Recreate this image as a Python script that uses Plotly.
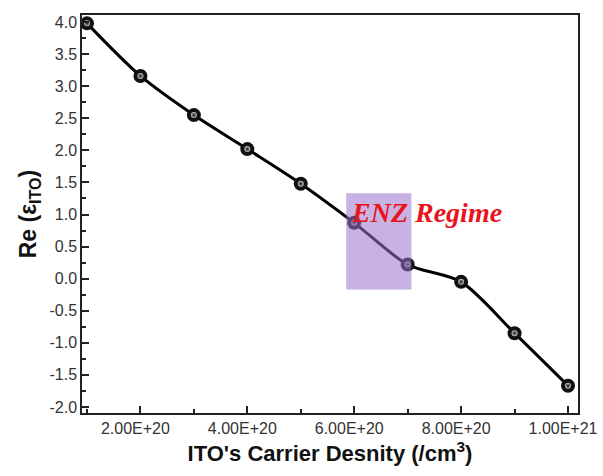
import plotly.graph_objects as go

carrier_density = [1e20, 2e20, 3e20, 4e20, 5e20, 6e20, 7e20, 8e20, 9e20, 1e21]
re_eps = [3.98, 3.16, 2.55, 2.02, 1.48, 0.87, 0.22, -0.05, -0.85, -1.67]

x_tickvals = [2e20, 4e20, 6e20, 8e20, 1e21]
x_ticktext = ["2.00E+20", "4.00E+20", "6.00E+20", "8.00E+20", "1.00E+21"]
y_tickvals = [-2.0, -1.5, -1.0, -0.5, 0.0, 0.5, 1.0, 1.5, 2.0, 2.5, 3.0, 3.5, 4.0]
y_ticktext = ["-2.0", "-1.5", "-1.0", "-0.5", "0.0", "0.5", "1.0", "1.5", "2.0", "2.5", "3.0", "3.5", "4.0"]

enz_x = [5.85e20, 7.07e20]
enz_y = [-0.17, 1.33]

fig = go.Figure()
fig.add_trace(go.Scatter(
    x=carrier_density, y=re_eps, mode="lines+markers",
    line=dict(color="black", width=3, shape="spline", smoothing=0.8),
    marker=dict(size=14, color="#111111", line=dict(width=0)),
    showlegend=False,
))
fig.add_trace(go.Scatter(
    x=carrier_density, y=re_eps, mode="markers",
    marker=dict(size=6, color="#c8c8c8", gradient=dict(type="radial", color="#111111"),
                line=dict(width=0)),
    showlegend=False, hoverinfo="skip",
))

fig.add_shape(type="rect", x0=enz_x[0], x1=enz_x[1], y0=enz_y[0], y1=enz_y[1],
              fillcolor="rgba(155,115,205,0.55)", line=dict(width=0), layer="above")
fig.add_annotation(x=enz_x[0], y=1.03, xanchor="left", yanchor="middle", showarrow=False,
                   text="<b><i>ENZ Regime</i></b>",
                   font=dict(family="Liberation Serif", size=28, color="#e8141c"), xshift=3)

axis_common = dict(showline=True, linecolor="#222", linewidth=1.5, mirror=True,
                   ticks="inside", tickcolor="#222", tickwidth=1.5, ticklen=7,
                   showgrid=False, zeroline=False, ticklabeloverflow="allow",
                   automargin=False,
                   tickfont=dict(family="Liberation Sans", size=16, color="#333"))
fig.update_xaxes(range=[0.907e20, 1.0187e21], tickvals=x_tickvals, ticktext=x_ticktext,
                 ticklabelshift=-5,
                 minor=dict(dtick=1e20, tick0=0, ticks="inside", ticklen=4, tickcolor="#222", tickwidth=1.5),
                 title=dict(text="<b>ITO's Carrier Desnity (/cm<sup>3</sup>)</b>",
                            font=dict(family="Liberation Sans", size=22, color="#111"), standoff=10),
                 **axis_common)
fig.update_yaxes(range=[-2.094, 4.11], tickvals=y_tickvals, ticktext=y_ticktext,
                 minor=dict(dtick=0.25, tick0=0, ticks="inside", ticklen=4, tickcolor="#222", tickwidth=1.5),
                 title=dict(text="<b>Re (ε<sub>ITO</sub>)</b>",
                            font=dict(family="Liberation Sans", size=23, color="#111"), standoff=6),
                 **axis_common)
fig.update_layout(width=603, height=476, margin=dict(l=82, r=25, t=15, b=63),
                  plot_bgcolor="white", paper_bgcolor="white")
fig.write_html("out.html")
